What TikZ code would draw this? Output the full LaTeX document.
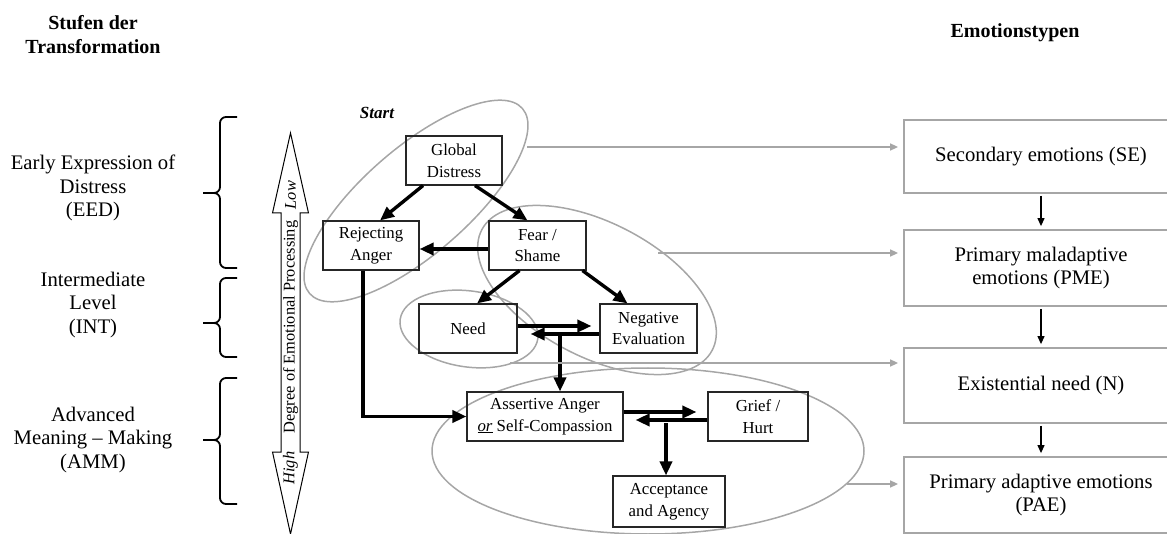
\documentclass[tikz,border=0pt]{standalone}
\usepackage{fontspec}
\setmainfont{Liberation Serif}
\usetikzlibrary{arrows.meta,shapes.geometric}
\definecolor{linegray}{gray}{0.65}

\begin{document}
\begin{tikzpicture}[x=1pt, y=-1pt, every node/.style={inner sep=0pt},
    stepbox/.style={draw=black!85, line width=1.1pt, align=center, minimum height=49pt,
      font=\fontsize{16.8}{21.7}\selectfont},
    typebox/.style={draw=linegray, line width=1.8pt, align=center, minimum width=274pt,
      font=\fontsize{20.7}{23.5}\selectfont},
    emogroup/.style={draw=linegray, line width=1.5pt, ellipse},
    stagelabel/.style={align=center, font=\fontsize{20.7}{23.5}\selectfont},
    heading/.style={align=center, font=\bfseries\fontsize{20}{24}\selectfont},
    stagebrace/.style={line width=1.8pt, rounded corners=6pt},
    flow/.style={line width=3.4pt, -{Triangle[length=14pt,width=12pt]}},
    toType/.style={draw=linegray, line width=1.5pt, -{Triangle[length=8pt,width=7pt]}, shorten >=5pt},
    typeflow/.style={line width=1.2pt, -{Triangle[length=8pt,width=7pt]}, shorten <=2pt, shorten >=3pt}]
  \useasboundingbox (0,0) rectangle (1167,534);

  % Headings and stages
  \node[heading] (stufen) at (93,35) {Stufen der\\Transformation};
  \node[heading] (typen) at (1015,33) {Emotionstypen};
  \node[stagelabel] (eed) at (93,188) {Early Expression of\\Distress\\(EED)};
  \node[stagelabel] (int) at (93,305) {Intermediate\\Level\\(INT)};
  \node[stagelabel] (amm) at (93,440) {Advanced\\Meaning – Making\\(AMM)};
  \foreach \ya/\yb/\yc in {117/193/268, 278/323/357, 378/440/504} {
    \draw[stagebrace] (237,\ya) -- (220,\ya) -- (220,\yb) -- (203,\yb);
    \draw[stagebrace] (237,\yc) -- (220,\yc) -- (220,\yb) -- (203,\yb);
  }

  % Degree arrow
  \draw[line width=1pt] (281,213) -- (272.5,213) -- (290.5,133) -- (308.5,213) -- (300,213)
    -- (300,452) -- (308.5,452) -- (290.5,534) -- (272.5,452) -- (281,452) -- cycle;
  \node[rotate=90, font=\fontsize{16.4}{19}\selectfont] (degree) at (290.5,327) {Degree of Emotional Processing};
  \node[rotate=90, font=\itshape\fontsize{16.4}{19}\selectfont] (low) at (290.5,195) {Low};
  \node[rotate=90, font=\itshape\fontsize{16.4}{19}\selectfont] (high) at (290.5,468) {High};

  % Groups
  \node[emogroup, rotate=41, minimum width=282pt, minimum height=106pt] (startring) at (416,201) {};
  \node[emogroup, rotate=-27.6, minimum width=260pt, minimum height=134pt] (fearring) at (597,290) {};
  \node[emogroup, rotate=-8, minimum width=139pt, minimum height=76pt] (needring) at (469,329) {};
  \node[emogroup, minimum width=432pt, minimum height=166pt] (changering) at (648,451) {};
  \node[font=\bfseries\itshape\fontsize{17}{20}\selectfont] (start) at (377,113) {Start};

  % Nodes
  \node[stepbox, minimum width=96pt] (global) at (454,160.5) {Global\\Distress};
  \node[stepbox, minimum width=96pt] (reject) at (371,245.5) {Rejecting\\Anger};
  \node[stepbox, minimum width=97pt] (fear) at (537.5,245.5) {Fear /\\Shame};
  \node[stepbox, minimum width=98pt] (need) at (468,328.5) {Need};
  \node[stepbox, minimum width=97pt] (negeval) at (648.5,328.5) {Negative\\Evaluation};
  \node[stepbox, minimum width=156pt] (assert) at (545,416.5) {Assertive Anger\\\underline{\textit{or}} Self-Compassion};
  \node[stepbox, minimum width=100pt] (grief) at (758,416.5) {Grief /\\Hurt};
  \node[stepbox, minimum width=112pt, minimum height=51pt] (accept) at (669,501.5) {Acceptance\\and Agency};

  \node[typebox, minimum height=73pt] (se) at (1041,156.5) {Secondary emotions (SE)};
  \node[typebox, minimum height=76pt] (pme) at (1041,268) {Primary maladaptive\\emotions (PME)};
  \node[typebox, minimum height=75pt] (en) at (1041,385.5) {Existential need (N)};
  \node[typebox, minimum height=76pt] (pae) at (1041,495) {Primary adaptive emotions\\(PAE)};

  % Arrows
  \draw[flow] ([xshift=-31pt]global.south) -- ([xshift=9pt]reject.north);
  \draw[flow] ([xshift=21pt]global.south) -- ([xshift=-10pt]fear.north);
  \draw[flow] ([yshift=-3.5pt]fear.west) -- ([yshift=-3.5pt]reject.east);
  \draw[flow] ([xshift=-18pt]fear.south) -- ([xshift=9pt]need.north);
  \draw[flow] ([xshift=45pt]fear.south) -- ([xshift=-21pt]negeval.north);
  \draw[flow, shorten >=8pt] ([yshift=2.5pt]need.east) -- ([yshift=2.5pt]negeval.west);
  \draw[flow, shorten >=13pt] ([yshift=-5.5pt]negeval.west) -- ([yshift=-5.5pt]need.east);
  \coordinate (split1) at (560,334);
  \draw[flow] (split1) -- (split1 |- assert.north);
  \draw[flow] ([xshift=-8pt]reject.south) |- (assert.west);
  \draw[flow, shorten >=11pt] ([yshift=4.5pt]assert.east) -- ([yshift=4.5pt]grief.west);
  \draw[flow, shorten >=12pt] ([yshift=-3.5pt]grief.west) -- ([yshift=-3.5pt]assert.east);
  \coordinate (split2) at (666,423);
  \draw[flow] (split2) -- (split2 |- accept.north);

  \coordinate (fromstart) at (527,147);
  \coordinate (fromfear) at (658,253);
  \coordinate (fromneed) at (510,363);
  \coordinate (fromchange) at (847,484);
  \draw[toType] (fromstart) -- (fromstart -| se.west);
  \draw[toType] (fromfear) -- (fromfear -| pme.west);
  \draw[toType] (fromneed) -- (fromneed -| en.west);
  \draw[toType] (fromchange) -- (fromchange -| pae.west);

  \draw[typeflow] (se) -- (pme);
  \draw[typeflow] (pme) -- (en);
  \draw[typeflow] (en) -- (pae);
\end{tikzpicture}
\end{document}
